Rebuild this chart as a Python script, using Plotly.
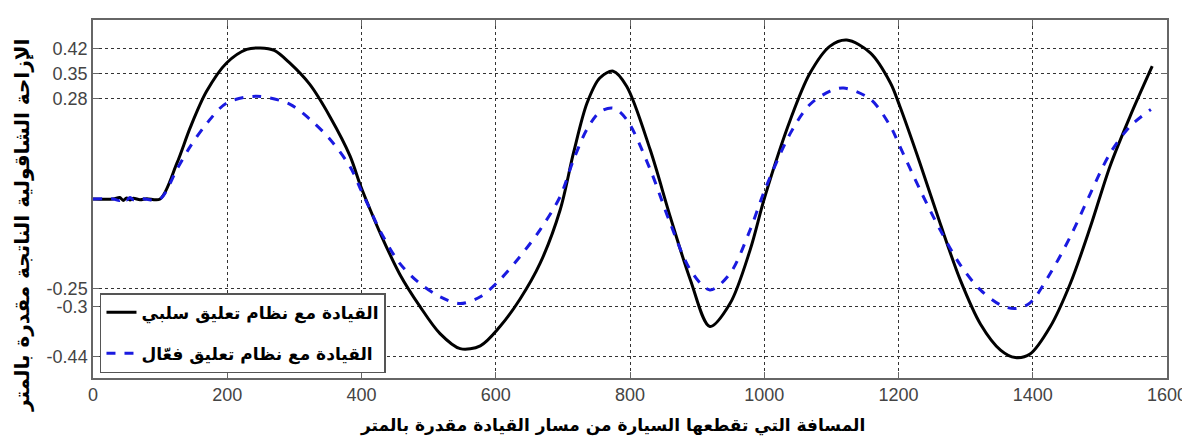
import plotly.graph_objects as go

# Passive suspension (black, solid)
passive_x = [0, 30, 40, 45, 50, 55, 60, 70, 80, 100, 125, 145, 169, 199, 229, 249, 270, 293, 323, 353, 383, 398, 413, 428,
             457, 487, 517, 547, 577, 606, 636, 666, 696, 716, 736, 755, 775, 795, 830, 860, 890, 919, 949,
             979, 1001, 1039, 1068, 1098, 1123, 1158, 1188, 1202, 1232, 1262, 1292, 1322, 1352, 1374, 1396,
             1426, 1456, 1486, 1515, 1545, 1578]
passive_y = [0, 0, 0.004, -0.004, 0.003, -0.003, 0.002, -0.002, 0.001, 0, 0.10, 0.20, 0.30, 0.38, 0.418, 0.422, 0.415, 0.38, 0.32, 0.23, 0.12, 0.04, -0.03, -0.096,
             -0.21, -0.30, -0.376, -0.418, -0.41, -0.357, -0.28, -0.18, -0.03, 0.13, 0.268, 0.338, 0.357, 0.315, 0.138, -0.05, -0.226, -0.356, -0.292,
             -0.142, 0.007, 0.222, 0.351, 0.427, 0.444, 0.408, 0.324, 0.259, 0.10, -0.068, -0.226, -0.349, -0.422, -0.443, -0.433,
             -0.357, -0.236, -0.077, 0.091, 0.231, 0.371]

# Active suspension (blue, dashed)
active_x = [0, 30, 40, 45, 50, 55, 60, 70, 80, 100, 125, 145, 169, 199, 244, 293, 323, 353, 383, 398, 413, 428,
            457, 487, 517, 547, 577, 606, 636, 666, 696, 716, 736, 755, 775, 795, 830, 860, 890, 919, 949,
            979, 1001, 1039, 1068, 1098, 1118, 1158, 1188, 1202, 1232, 1262, 1292, 1322, 1352, 1374, 1396,
            1426, 1456, 1486, 1515, 1545, 1576]
active_y = [0, 0, -0.004, 0.005, -0.003, 0.004, -0.002, 0.002, -0.001, 0, 0.083, 0.147, 0.21, 0.268, 0.287, 0.265, 0.223, 0.167, 0.09, 0.03, -0.03, -0.09,
            -0.18, -0.236, -0.273, -0.292, -0.273, -0.226, -0.161, -0.086, 0.007, 0.11, 0.195, 0.243, 0.254, 0.222, 0.083, -0.068, -0.198, -0.254, -0.208,
            -0.086, 0.026, 0.184, 0.264, 0.301, 0.31, 0.279, 0.203, 0.147, 0.026, -0.086, -0.184, -0.254, -0.296, -0.306, -0.29,
            -0.208, -0.105, 0.016, 0.127, 0.203, 0.25]

passive_name = "القيادة مع نظام تعليق سلبي"
active_name = "القيادة مع نظام تعليق فعّال"

x_ticks = [0, 200, 400, 600, 800, 1000, 1200, 1400, 1600]
y_ticks = [0.42, 0.35, 0.28, -0.25, -0.3, -0.44]
y_tick_text = ["0.42", "0.35", "0.28", "-0.25", "-0.3", "-0.44"]

x_title = "المسافة التي تقطعها السيارة من مسار القيادة مقدرة بالمتر"
y_title = "الإزاحة الشاقولية الناتجة مقدرة بالمتر"

fig = go.Figure()
fig.add_trace(go.Scatter(x=passive_x, y=passive_y, mode="lines", name=passive_name,
                         legendgroup="a",
                         line=dict(color="black", width=3, shape="spline", smoothing=0.9)))
fig.add_trace(go.Scatter(x=active_x, y=active_y, mode="lines", name=active_name,
                         legendgroup="b",
                         line=dict(color="#1a1ae0", width=3, dash="dash", shape="spline", smoothing=0.9)))

axis_common = dict(showline=True, linecolor="#666", linewidth=1.5, mirror="ticks",
                   ticks="inside", ticklen=6, tickcolor="#666",
                   showgrid=True, gridcolor="#333", gridwidth=1, griddash="dot",
                   zeroline=False, automargin=False,
                   tickfont=dict(family="Liberation Sans, Arial, sans-serif", size=18, color="#444"))

fig.update_xaxes(range=[0, 1600], tickvals=x_ticks, **axis_common)
fig.update_yaxes(range=[-0.5, 0.5], tickvals=y_ticks, ticktext=y_tick_text, **axis_common)

fig.update_layout(
    width=1182, height=435,
    margin=dict(l=85, r=23, t=12, b=65, autoexpand=False),
    paper_bgcolor="white", plot_bgcolor="white",
    showlegend=True,
    legend=dict(x=0.0065, y=0.237, xanchor="left", yanchor="top",
                bgcolor="white", bordercolor="#555", borderwidth=1.5,
                traceorder="grouped", tracegroupgap=16,
                font=dict(family="DejaVu Sans", size=17, color="black", weight="bold")),
    annotations=[
        dict(text=x_title, xref="paper", yref="paper",
             x=(612 - 93) / 1074, y=-(425 - 378) / 358, xanchor="center", yanchor="middle",
             showarrow=False,
             font=dict(family="DejaVu Sans", size=17, color="black", weight="bold")),
        dict(text=y_title, xref="paper", yref="paper", textangle=-90,
             x=-(93 - 22) / 1074, y=(378 - 226) / 358, xanchor="center", yanchor="middle",
             showarrow=False,
             font=dict(family="DejaVu Sans", size=20, color="black", weight="bold")),
    ],
)

fig.write_html("out.html")
